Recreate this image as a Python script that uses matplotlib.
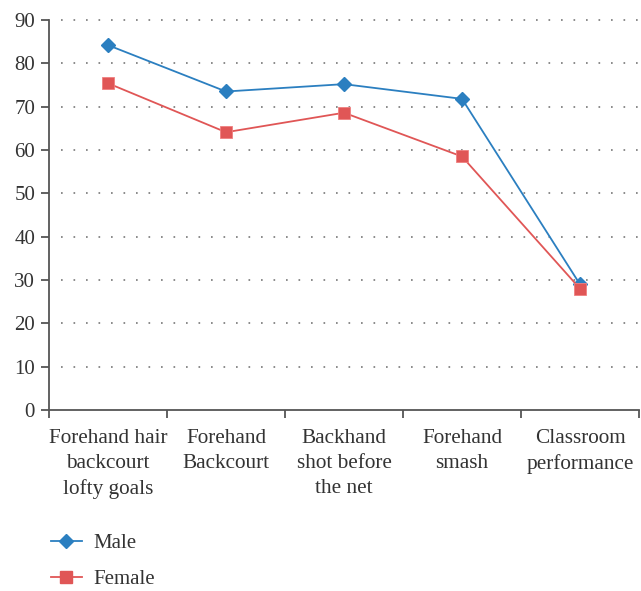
import matplotlib
matplotlib.use("Agg")
import matplotlib.pyplot as plt
from matplotlib.lines import Line2D

categories = [
    "Forehand hair\nbackcourt\nlofty goals",
    "Forehand\nBackcourt",
    "Backhand\nshot before\nthe net",
    "Forehand\nsmash",
    "Classroom\nperformance",
]
male = [84.2, 73.5, 75.2, 71.8, 29.0]
female = [75.4, 64.1, 68.6, 58.5, 28.0]
y_ticks = [0, 10, 20, 30, 40, 50, 60, 70, 80, 90]

blue = "#2b7fc0"
red = "#e05656"
axis_col = "#555555"
text_col = "#333333"

plt.rcParams["font.family"] = ["Liberation Serif", "DejaVu Serif"]

fig = plt.figure(figsize=(6.41, 5.91), dpi=100)
ax = fig.add_axes([49 / 641, 1 - 410 / 591, 590 / 641, 390 / 591])

x = list(range(len(categories)))
ax.plot(x, male, color=blue, lw=1.3, marker="D", ms=7.5, mfc=blue, mec=blue, zorder=3)
ax.plot(x, female, color=red, lw=1.3, marker="s", ms=9, mfc=red, mec="#f08080", mew=0.6, zorder=4)

ax.set_xlim(-0.5, len(categories) - 0.5)
ax.set_ylim(0, 90)
ax.set_yticks(y_ticks)
ax.set_xticks([i - 0.5 for i in range(len(categories) + 1)])
ax.set_xticklabels([])
ax.set_xticks(x, minor=True)
ax.set_xticklabels(categories, minor=True, fontsize=15.3, color=text_col, linespacing=1.4)
ax.tick_params(axis="x", which="minor", length=0, pad=14)
ax.tick_params(axis="x", which="major", length=6, width=1.3, color=axis_col, direction="out")
ax.tick_params(axis="y", length=6, width=1.3, color=axis_col, labelsize=15, labelcolor=text_col, pad=4)

for s in ["top", "right"]:
    ax.spines[s].set_visible(False)
for s in ["left", "bottom"]:
    ax.spines[s].set_color(axis_col)
    ax.spines[s].set_linewidth(1.3)

for v in y_ticks[1:]:
    ax.axhline(v, xmin=0.02, xmax=1.01, color="#777777", lw=1.2,
               linestyle=(0, (1, 6.5)), zorder=1, clip_on=False)

handles = [
    Line2D([], [], color=blue, lw=1.3, marker="D", ms=7, mfc=blue, mec=blue),
    Line2D([], [], color=red, lw=1.3, marker="s", ms=8, mfc=red, mec=red),
]
fig.legend(handles, ["Male", "Female"], loc="upper left",
           bbox_to_anchor=(36 / 641, 1 - 519 / 591), frameon=False,
           fontsize=15, labelcolor=text_col, handlelength=1.5,
           labelspacing=0.8, handletextpad=0.55, borderpad=0.2)

fig.savefig("out.png", dpi=100)
